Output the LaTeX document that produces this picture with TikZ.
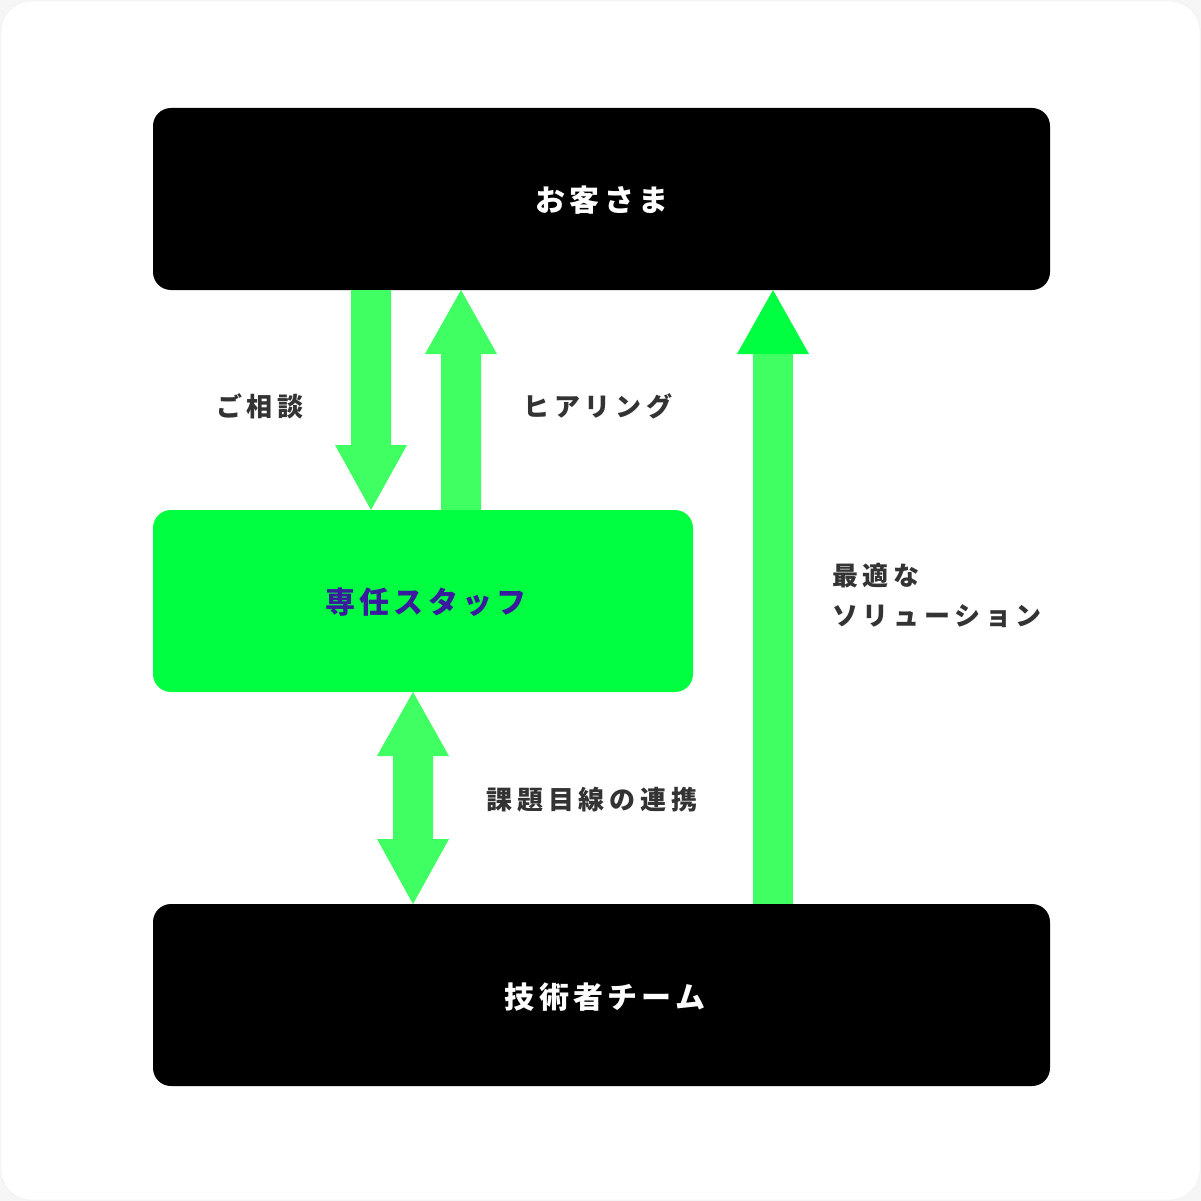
\documentclass[tikz,border=0pt]{standalone}
\usepackage{fontspec}
\newfontfamily\jpbox{Noto Sans CJK JP}[LetterSpace=14]
\newfontfamily\jplbl{Noto Sans CJK JP}[LetterSpace=18]
\definecolor{boxgreen}{HTML}{00FF40}
\definecolor{arrgreen}{HTML}{3FFF63}
\definecolor{labelgray}{HTML}{333333}
\definecolor{purpletext}{HTML}{3A1A9E}
\definecolor{outerbg}{HTML}{F6F6F6}
\definecolor{cardedge}{HTML}{ECECEC}
\tikzset{
  darkbox/.style={fill=black, rounded corners=18pt, minimum width=897pt, minimum height=182pt, inner sep=0pt},
  greenbox/.style={fill=boxgreen, rounded corners=18pt, minimum width=540pt, minimum height=182pt, inner sep=0pt},
  boxtext/.style={inner sep=0pt, font=\jpbox\bfseries\fontsize{30pt}{34pt}\selectfont},
  lbl/.style={text=labelgray, inner sep=0pt, font=\jplbl\bfseries\fontsize{26pt}{40pt}\selectfont},
  arr/.style={fill=arrgreen, draw=none},
  arrhead/.style={fill=boxgreen, draw=none}
}
\begin{document}
\begin{tikzpicture}[x=1pt,y=-1pt]
\useasboundingbox (0,0) rectangle (1201,1201);
\fill[outerbg] (0,0) rectangle (1201,1201);
\draw[cardedge, fill=white, rounded corners=30pt] (1,1) rectangle (1200,1200);

\node[darkbox] (client) at (601.5,199) {};
\node[greenbox] (staff) at (423,601) {};
\node[darkbox] (team) at (601.5,995) {};
\node[boxtext, text=white] (clientlbl) at (602,200) {お客さま};
\node[boxtext, text=purpletext] (stafflbl) at (426,602) {専任スタッフ};
\node[boxtext, text=white] (teamlbl) at (605,997) {技術者チーム};

% consultation arrow (down)
\fill[arr] (351,290) -- (391,290) -- (391,445) -- (407,445) -- (371,510) -- (335,445) -- (351,445) -- cycle;
% hearing arrow (up)
\fill[arr] (441,510) -- (481,510) -- (481,354) -- (497,354) -- (461,290) -- (425,354) -- (441,354) -- cycle;
% cooperation arrow (double)
\fill[arr] (413,692) -- (449,756) -- (433,756) -- (433,839) -- (449,839) -- (413,904) -- (377,839) -- (393,839) -- (393,756) -- (377,756) -- cycle;
% solution arrow (up, long)
\fill[arr] (753,904) -- (793,904) -- (793,354) -- (753,354) -- cycle;
\fill[arrhead] (737,354) -- (773,290) -- (809,354) -- cycle;

\node[lbl] (l1) at (260,406) {ご相談};
\node[lbl] (l2) at (598,406) {ヒアリング};
\node[lbl] (l3) at (592,800) {課題目線の連携};
\node[lbl, anchor=west, align=left] (l4) at (832,595) {最適な\\ソリューション};
\end{tikzpicture}
\end{document}
